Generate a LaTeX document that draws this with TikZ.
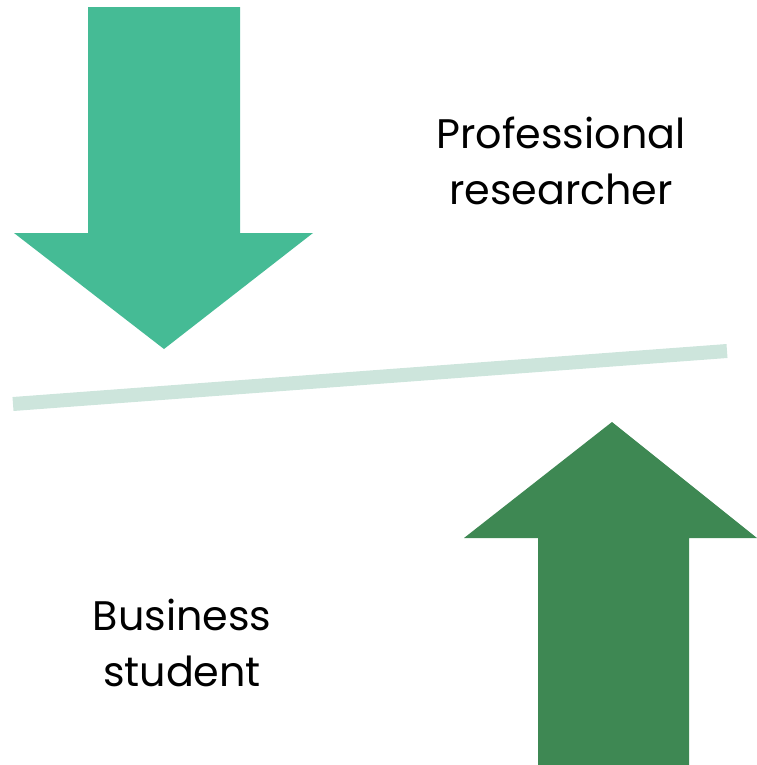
\documentclass[tikz,border=0pt]{standalone}
\usepackage{fontspec}
\setmainfont{Poppins}
\usepackage{xcolor}
\definecolor{downgreen}{HTML}{45BB95}
\definecolor{upgreen}{HTML}{3E8853}
\definecolor{linegreen}{HTML}{CDE5DC}

\begin{document}
\begin{tikzpicture}[x=0.02cm,y=-0.02cm,
  label text/.style={align=center,inner sep=0pt,font=\fontsize{23.5}{32}\selectfont}]
\useasboundingbox (0,0) rectangle (757,765);
\path [fill=downgreen] (88,7) -- (240,7) -- (240,233) -- (313,233) -- (164,349) -- (14,233) -- (88,233) -- (88,7);
\path [fill=upgreen] (538,765) -- (689,765) -- (689,538) -- (757,538) -- (612,422) -- (464,538) -- (538,538) -- (538,765);
\coordinate (lineL) at (13,404);
\coordinate (lineR) at (727,351);
\draw [linegreen,line width=0.28cm] (lineL) -- (lineR);
\node [label text] (pro) at (561,161) {Professional\\researcher};
\node [label text] (bus) at (182,643) {Business\\student};
\end{tikzpicture}
\end{document}
